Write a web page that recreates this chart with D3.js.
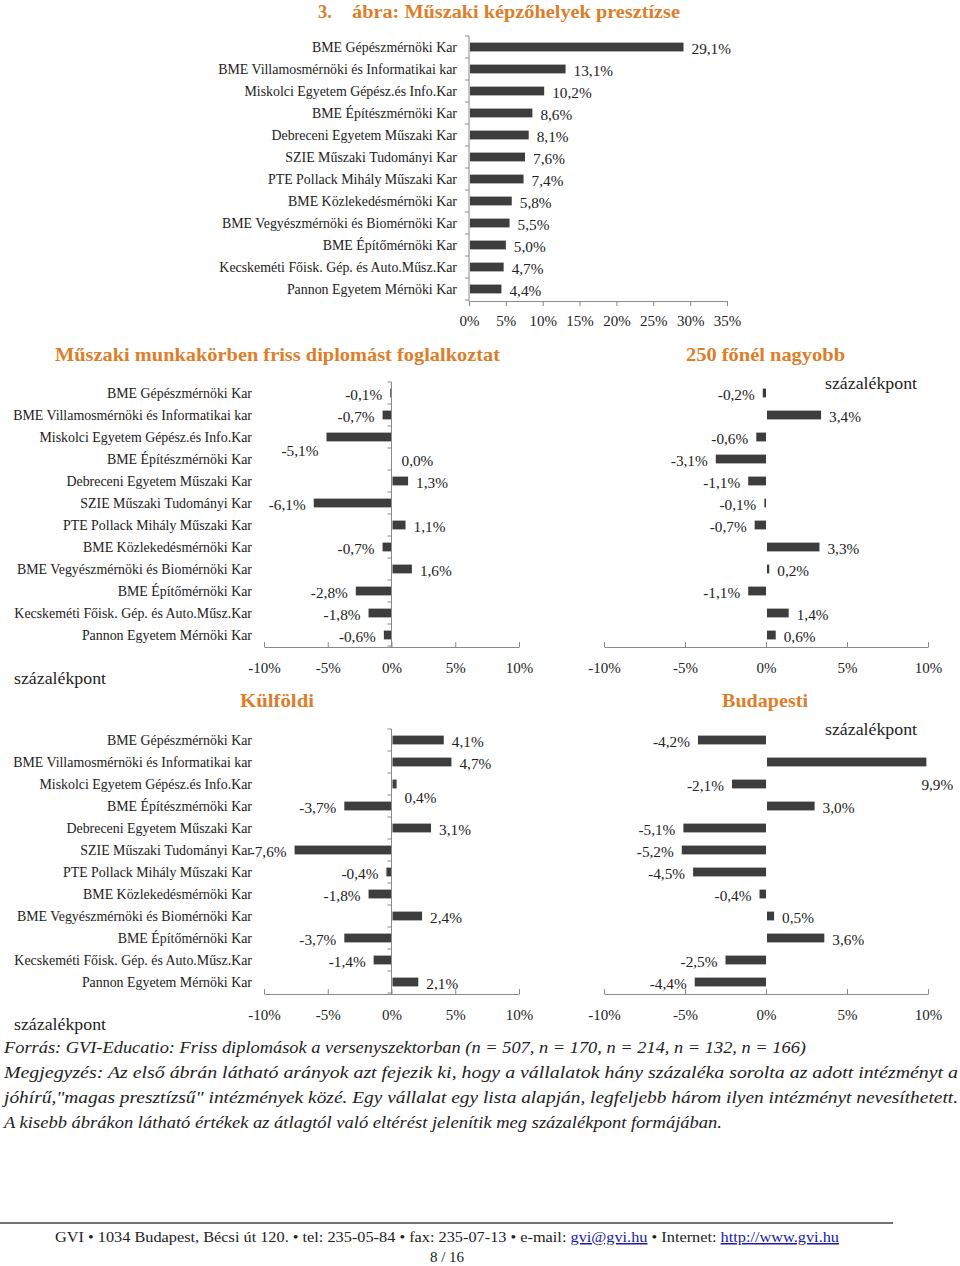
<!DOCTYPE html>
<html><head><meta charset="utf-8">
<script src="https://cdn.jsdelivr.net/npm/d3@7"></script>
<style>
body{margin:0;background:#fff}
svg{display:block}
text{font-family:"Liberation Serif","Times New Roman",serif;fill:#222}
.orange{fill:#DC7E2A;font-weight:bold}
.axis path,.axis line{stroke:#8a8a8a;stroke-width:1}
.axis text{font-family:"Liberation Serif",serif;font-size:15px;fill:#222}
</style>
</head><body>
<svg id="c" width="960" height="1266"></svg>
<script>
const categories = [
  "BME Gépészmérnöki Kar",
  "BME Villamosmérnöki és Informatikai kar",
  "Miskolci Egyetem Gépész.és Info.Kar",
  "BME Építészmérnöki Kar",
  "Debreceni Egyetem Műszaki Kar",
  "SZIE Műszaki Tudományi Kar",
  "PTE Pollack Mihály Műszaki Kar",
  "BME Közlekedésmérnöki Kar",
  "BME Vegyészmérnöki és Biomérnöki Kar",
  "BME Építőmérnöki Kar",
  "Kecskeméti Főisk. Gép. és Auto.Műsz.Kar",
  "Pannon Egyetem Mérnöki Kar"
];
const prestige  = [29.1, 13.1, 10.2, 8.6, 8.1, 7.6, 7.4, 5.8, 5.5, 5.0, 4.7, 4.4];
const muszaki   = [-0.1, -0.7, -5.1, 0.0, 1.3, -6.1, 1.1, -0.7, 1.6, -2.8, -1.8, -0.6];
const nagyobb   = [-0.2, 3.4, -0.6, -3.1, -1.1, -0.1, -0.7, 3.3, 0.2, -1.1, 1.4, 0.6];
const kulfoldi  = [4.1, 4.7, 0.4, -3.7, 3.1, -7.6, -0.4, -1.8, 2.4, -3.7, -1.4, 2.1];
const budapesti = [-4.2, 9.9, -2.1, 3.0, -5.1, -5.2, -4.5, -0.4, 0.5, 3.6, -2.5, -4.4];
const prestigeTicks = [0, 5, 10, 15, 20, 25, 30, 35];
const diffTicks = [-10, -5, 0, 5, 10];

const svg = d3.select("#c");
const BAR = "#3d3d3d";
const fmt = v => d3.format(".1f")(v).replace("\u2212", "-").replace(".", ",") + "%";

function drawChart(o) {
  const g = svg.append("g");
  const x = d3.scaleLinear().domain(o.domain).range(o.xRange);
  const y = d3.scaleBand().domain(categories).range(o.yRange).paddingInner(0.6).paddingOuter(0.3);
  const x0 = x(0);
  const data = categories.map((c, i) => ({c, v: o.values[i], i}));

  g.selectAll("rect.bar").data(data).join("rect")
    .attr("x", d => d.v >= 0 ? x0 + 1 : x(d.v))
    .attr("y", d => y(d.c))
    .attr("width", d => Math.max(0, Math.abs(x(d.v) - x0) - (d.v >= 0 ? 1 : 0)))
    .attr("height", y.bandwidth())
    .attr("fill", BAR);

  const ax = (o.tickDown ? d3.axisBottom(x).tickSize(5).tickPadding(9)
                         : d3.axisBottom(x).tickSize(-5).tickPadding(15))
    .tickValues(o.ticks).tickFormat(d => d + "%").tickSizeOuter(0);
  g.append("g").attr("class", "axis")
    .attr("transform", `translate(0,${o.yRange[1] + 1})`).call(ax)
    .call(s => s.selectAll("text").attr("font-family", null).attr("font-size", null));

  if (o.yAxis) {
    const ya = g.append("g").attr("class", "axis");
    ya.append("line").attr("x1", x0).attr("x2", x0)
      .attr("y1", o.yRange[0]).attr("y2", o.yRange[1] + 1);
    const bounds = d3.range(categories.length + 1).map(i => o.yRange[0] + i * y.step());
    ya.selectAll("line.tk").data(bounds).join("line").attr("class", "tk")
      .attr("x1", x0 - 4).attr("x2", x0).attr("y1", d => d).attr("y2", d => d);
  }

  if (o.labelX) {
    g.selectAll("text.cat").data(data).join("text").attr("class", "cat")
      .attr("x", o.labelX).attr("y", d => y(d.c) + y.bandwidth() / 2)
      .attr("dy", "0.35em").attr("text-anchor", "end")
      .attr("font-size", "13.9px").text(d => d.c);
  }

  const nud = o.nudges || {};
  g.selectAll("text.val").data(data).join("text").attr("class", "val")
    .attr("x", d => (d.v >= 0 ? x(d.v) + 8 : x(d.v) - 8) + (nud[d.i] ? nud[d.i][0] : 0))
    .attr("y", d => y(d.c) + y.bandwidth() / 2 + 2 + (nud[d.i] ? nud[d.i][1] : 0))
    .attr("dy", "0.35em")
    .attr("text-anchor", d => d.v >= 0 ? "start" : "end")
    .attr("font-size", "15.3px").text(d => fmt(d.v));
}

function txt(x, y, s, opt = {}) {
  const t = svg.append("text").attr("x", x).attr("y", y).text(s)
    .attr("font-size", opt.size || "15px");
  if (opt.cls) t.attr("class", opt.cls);
  if (opt.italic) t.attr("font-style", "italic");
  if (opt.anchor) t.attr("text-anchor", opt.anchor);
  if (opt.len) t.attr("textLength", opt.len).attr("lengthAdjust", "spacingAndGlyphs");
  return t;
}

// Title
txt(318, 18, "3.", {cls: "orange", size: "18.5px"});
txt(352, 18, "ábra: Műszaki képzőhelyek presztízse", {cls: "orange", size: "18.5px", len: 328});

// Top chart
drawChart({values: prestige, domain: [0, 35], xRange: [469, 727], yRange: [36, 300],
  ticks: prestigeTicks, tickDown: true, yAxis: true, labelX: 457});

// Section titles
txt(55, 361, "Műszaki munkakörben friss diplomást foglalkoztat", {cls: "orange", size: "19px", len: 445});
txt(686, 361, "250 főnél nagyobb", {cls: "orange", size: "19px", len: 159});
txt(240, 707, "Külföldi", {cls: "orange", size: "19px", len: 74});
txt(722, 707, "Budapesti", {cls: "orange", size: "19px", len: 86});

// százalékpont labels
txt(825, 389, "százalékpont", {size: "16px", len: 92});
txt(14, 684, "százalékpont", {size: "16px", len: 92});
txt(825, 735, "százalékpont", {size: "16px", len: 92});
txt(14, 1030, "százalékpont", {size: "16px", len: 92});

// Middle charts
drawChart({values: muszaki, domain: [-10, 10], xRange: [264, 519], yRange: [382, 646],
  ticks: diffTicks, yAxis: true, labelX: 252, nudges: {2: [0, 12], 3: [2, 0]}});
drawChart({values: nagyobb, domain: [-10, 10], xRange: [604, 928], yRange: [382, 646],
  ticks: diffTicks, yAxis: false});

// Bottom charts
drawChart({values: kulfoldi, domain: [-10, 10], xRange: [264, 519], yRange: [729, 993],
  ticks: diffTicks, yAxis: true, labelX: 252, nudges: {2: [0, 12]}});
drawChart({values: budapesti, domain: [-10, 10], xRange: [604, 928], yRange: [729, 993],
  ticks: diffTicks, yAxis: false, nudges: {1: [-13, 21]}});

// Notes
txt(4, 1053, "Forrás: GVI-Educatio: Friss diplomások a versenyszektorban (n = 507, n = 170, n = 214, n = 132, n = 166)", {italic: true, size: "17px", len: 802});
txt(4, 1078, "Megjegyzés: Az első ábrán látható arányok azt fejezik ki, hogy a vállalatok hány százaléka sorolta az adott intézményt a", {italic: true, size: "17px", len: 954});
txt(4, 1103, "jóhírű,\"magas presztízsű\" intézmények közé. Egy vállalat egy lista alapján, legfeljebb három ilyen intézményt nevesíthetett.", {italic: true, size: "17px", len: 954});
txt(4, 1128, "A kisebb ábrákon látható értékek az átlagtól való eltérést jelenítik meg százalékpont formájában.", {italic: true, size: "17px", len: 718});

// Footer
svg.append("line").attr("x1", 0).attr("x2", 893).attr("y1", 1223).attr("y2", 1223)
  .attr("stroke", "#444").attr("stroke-width", 1.5);
const ft = svg.append("text").attr("x", 55).attr("y", 1242).attr("font-size", "15px")
  .attr("textLength", 784).attr("lengthAdjust", "spacingAndGlyphs");
ft.append("tspan").text("GVI • 1034 Budapest, Bécsi út 120. • tel: 235-05-84 • fax: 235-07-13 • e-mail: ");
ft.append("tspan").text("gvi@gvi.hu").style("fill", "#1a1aa6").style("text-decoration", "underline");
ft.append("tspan").text(" • Internet: ");
ft.append("tspan").text("http://www.gvi.hu").style("fill", "#1a1aa6").style("text-decoration", "underline");
txt(447, 1262, "8 / 16", {size: "15px", anchor: "middle"});
</script>
</body></html>
